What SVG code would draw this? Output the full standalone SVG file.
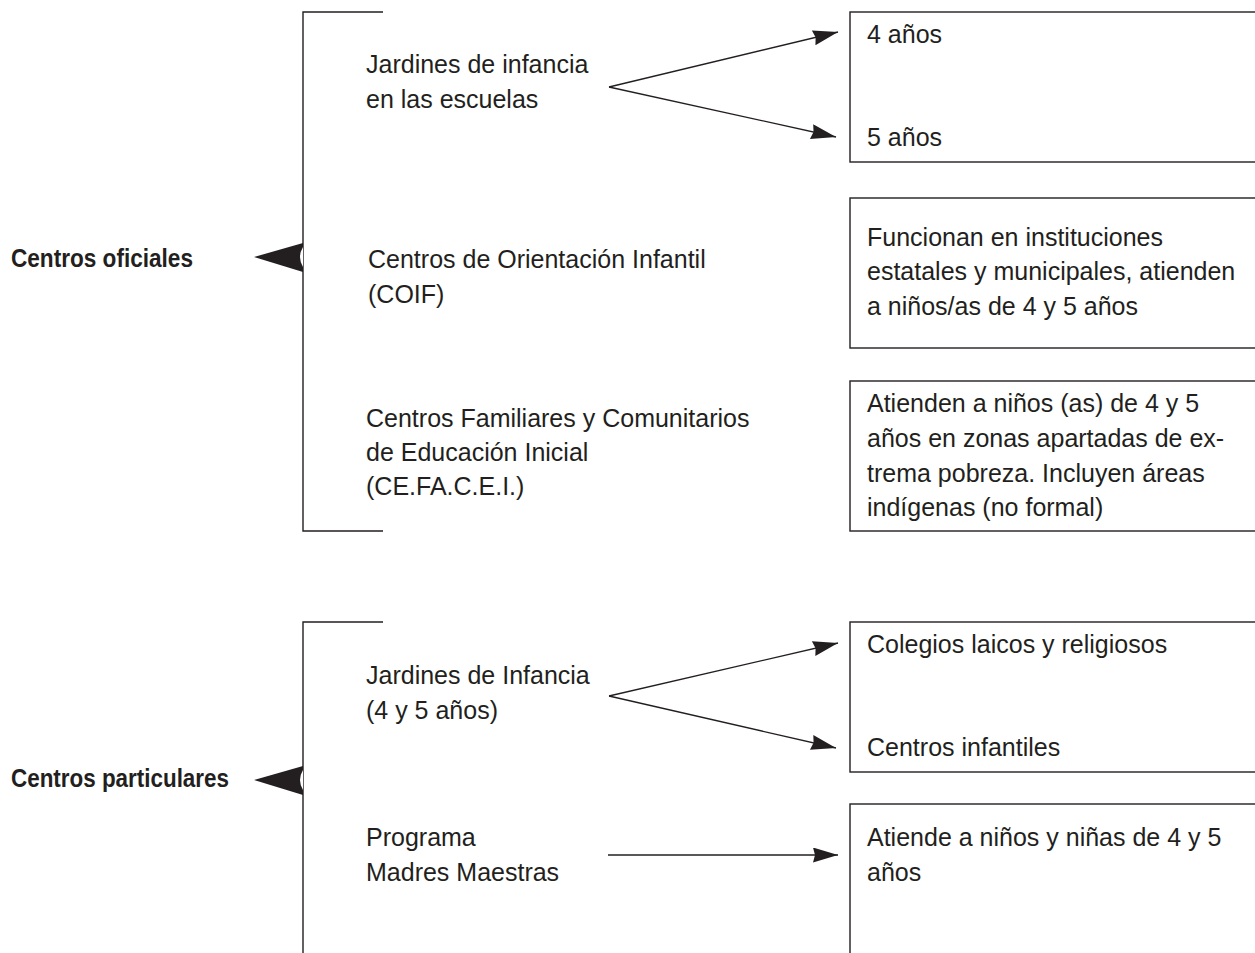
<svg xmlns="http://www.w3.org/2000/svg" width="1255" height="953" viewBox="0 0 1255 953">
<style>
  .t { font-family: "Liberation Sans", Arial, sans-serif; font-size: 25px; fill: #231f20; }
  .b { font-family: "Liberation Sans", Arial, sans-serif; font-size: 26px; font-weight: bold; fill: #231f20; }
  .ln { fill: none; stroke: #231f20; stroke-width: 1.4; }
  .box { fill: none; stroke: #231f20; stroke-width: 1.4; }
  .ar { fill: none; stroke: #231f20; stroke-width: 1.3; marker-end: url(#ah); }
  .head { fill: #231f20; }
</style>
<defs>
  <marker id="ah" markerUnits="userSpaceOnUse" markerWidth="28" markerHeight="18" refX="25" refY="7.5" orient="auto">
    <path d="M0,0 L25,7.5 L0,15 L2,7.5 z" fill="#231f20"/>
  </marker>
</defs>
<rect width="1255" height="953" fill="#ffffff"/>

<g id="centros-oficiales">
  <text class="b" x="11" y="267" textLength="182" lengthAdjust="spacingAndGlyphs">Centros oficiales</text>
  <path class="ln" d="M383,12 H303 V531 H383"/>
  <polygon class="head" points="254,257 303,243 303,272"/>
  <path d="M303,247 Q297,257 303,267 z" fill="#ffffff"/>
</g>

<g id="jardines-escuelas">
  <text class="t" x="366" y="73">Jardines de infancia</text>
  <text class="t" x="366" y="108">en las escuelas</text>
</g>
<g id="box-edades">
  <rect class="box" x="850" y="12" width="420" height="150"/>
  <text class="t" x="867" y="43">4 años</text>
  <text class="t" x="867" y="146">5 años</text>
</g>

<g id="coif">
  <text class="t" x="368" y="268">Centros de Orientación Infantil</text>
  <text class="t" x="368" y="303">(COIF)</text>
</g>
<g id="box-coif">
  <rect class="box" x="850" y="198" width="420" height="150"/>
  <text class="t" x="867" y="246">Funcionan en instituciones</text>
  <text class="t" x="867" y="280">estatales y municipales, atienden</text>
  <text class="t" x="867" y="315">a niños/as de 4 y 5 años</text>
</g>

<g id="cefacei">
  <text class="t" x="366" y="427">Centros Familiares y Comunitarios</text>
  <text class="t" x="366" y="461">de Educación Inicial</text>
  <text class="t" x="366" y="495">(CE.FA.C.E.I.)</text>
</g>
<g id="box-cefacei">
  <rect class="box" x="850" y="381" width="420" height="150"/>
  <text class="t" x="867" y="412">Atienden a niños (as) de 4 y 5</text>
  <text class="t" x="867" y="447">años en zonas apartadas de ex-</text>
  <text class="t" x="867" y="482">trema pobreza. Incluyen áreas</text>
  <text class="t" x="867" y="516">indígenas (no formal)</text>
</g>

<g id="centros-particulares">
  <text class="b" x="11" y="787" textLength="218" lengthAdjust="spacingAndGlyphs">Centros particulares</text>
  <path class="ln" d="M383,622 H303 V960"/>
  <polygon class="head" points="254,780 303,766 303,795"/>
  <path d="M303,770 Q297,780 303,790 z" fill="#ffffff"/>
</g>

<g id="jardines-infancia">
  <text class="t" x="366" y="684">Jardines de Infancia</text>
  <text class="t" x="366" y="719">(4 y 5 años)</text>
</g>
<g id="box-colegios">
  <rect class="box" x="850" y="622" width="420" height="150"/>
  <text class="t" x="867" y="653">Colegios laicos y religiosos</text>
  <text class="t" x="867" y="756">Centros infantiles</text>
</g>

<g id="madres-maestras">
  <text class="t" x="366" y="846">Programa</text>
  <text class="t" x="366" y="881">Madres Maestras</text>
</g>
<g id="box-madres">
  <rect class="box" x="850" y="804" width="420" height="170"/>
  <text class="t" x="867" y="846">Atiende a niños y niñas de 4 y 5</text>
  <text class="t" x="867" y="881">años</text>
</g>

<g id="connectors">
  <path class="ar" d="M609,87 L838,32"/>
  <path class="ar" d="M609,87 L836,137"/>
  <path class="ar" d="M609,696 L838,643"/>
  <path class="ar" d="M609,696 L836,748"/>
  <path class="ar" d="M608,855 L838,855"/>
</g>
</svg>
